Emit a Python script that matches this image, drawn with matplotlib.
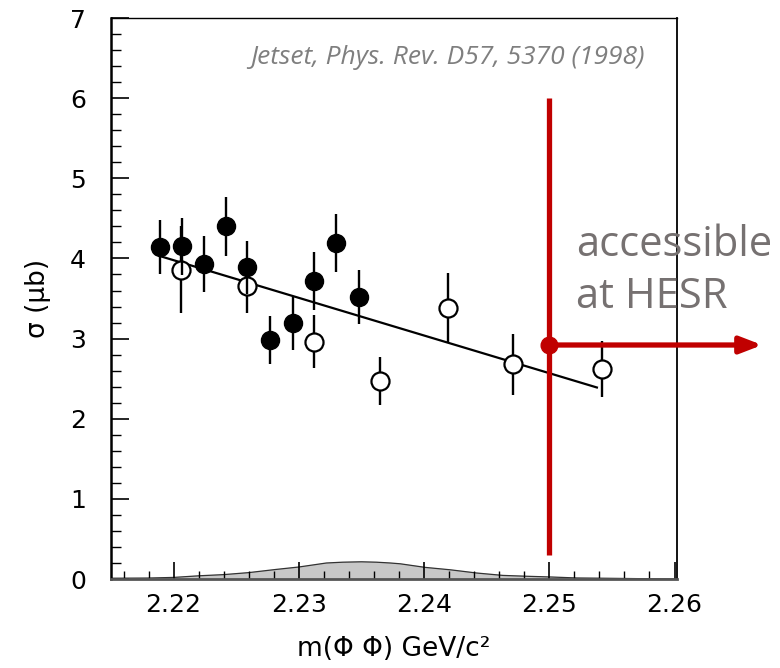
import matplotlib
matplotlib.use("Agg")
import matplotlib.pyplot as plt
from matplotlib.ticker import MultipleLocator

# filled points
m_filled = [2.2189, 2.2207, 2.2224, 2.2242, 2.2259, 2.2277, 2.2295, 2.2312, 2.2330, 2.2348]
sig_filled = [4.14, 4.15, 3.93, 4.40, 3.89, 2.98, 3.19, 3.72, 4.19, 3.52]
err_filled = [0.34, 0.36, 0.35, 0.37, 0.33, 0.30, 0.33, 0.36, 0.36, 0.34]

# open points
m_open = [2.2206, 2.2259, 2.2312, 2.2365, 2.2419, 2.2471, 2.2542]
sig_open = [3.86, 3.66, 2.96, 2.47, 3.38, 2.68, 2.62]
err_open = [0.54, 0.34, 0.33, 0.30, 0.44, 0.38, 0.35]

# straight-line fit end points
fit_m = [2.2189, 2.2538]
fit_sig = [4.03, 2.39]

# acceptance-like shaded curve at the bottom
acc_m = [2.215, 2.2179, 2.2200, 2.2220, 2.2240, 2.2260, 2.2282, 2.2300, 2.2322, 2.2335,
         2.2350, 2.2362, 2.2373, 2.2381, 2.2401, 2.2421, 2.2442, 2.2463, 2.2485, 2.2502,
         2.2522, 2.2543, 2.2570, 2.2600]
acc_sig = [0.01, 0.012, 0.02, 0.04, 0.055, 0.08, 0.12, 0.15, 0.20, 0.21,
           0.215, 0.21, 0.20, 0.19, 0.145, 0.115, 0.075, 0.045, 0.033, 0.025,
           0.013, 0.01, 0.005, 0.0]

hesr_m = 2.25
hesr_sig = 2.92
hesr_line = [0.30, 6.0]
arrow_end = 2.2670

red = "#c00000"
gray_txt = "#767171"

fig = plt.figure(figsize=(7.8, 6.68), dpi=100)
ax = fig.add_axes([0.1423, 0.1332, 0.7257, 0.8398])

ax.fill_between(acc_m, acc_sig, 0, color="#c8c8c8", zorder=1)
ax.plot(acc_m, acc_sig, color="#333333", lw=0.9, zorder=1)

ax.plot(fit_m, fit_sig, color="black", lw=1.6, zorder=2)

ax.errorbar(m_open, sig_open, yerr=err_open, fmt="o", ms=13, mfc="white", mec="black",
            mew=1.6, ecolor="black", elinewidth=1.7, capsize=0, zorder=3)
ax.errorbar(m_filled, sig_filled, yerr=err_filled, fmt="o", ms=13, mfc="black", mec="black",
            ecolor="black", elinewidth=1.7, capsize=0, zorder=4)

# HESR region marker
ax.plot([hesr_m, hesr_m], hesr_line, color=red, lw=3.8, solid_capstyle="butt", zorder=5)
ax.annotate("", xy=(arrow_end, hesr_sig), xytext=(hesr_m, hesr_sig),
            arrowprops=dict(arrowstyle="-|>,head_length=1.3,head_width=0.5", color=red, lw=3.8,
                            shrinkA=0, shrinkB=0),
            annotation_clip=False, zorder=6)
ax.plot([hesr_m], [hesr_sig], "o", color=red, ms=12, zorder=7, clip_on=False)

ax.text(0.943, 0.93, "Jetset, Phys. Rev. D57, 5370 (1998)", transform=ax.transAxes,
        ha="right", va="center", fontsize=19, style="italic", color="#7f7f7f", family="Open Sans")
fig.text(0.738, 0.594, "accessible\nat HESR", ha="left", va="center", fontsize=30,
         color=gray_txt, family="Open Sans", linespacing=1.3)

ax.set_xlim(2.215, 2.2602)
ax.set_ylim(0, 7)
ax.xaxis.set_major_locator(MultipleLocator(0.01))
ax.xaxis.set_minor_locator(MultipleLocator(0.002))
ax.yaxis.set_major_locator(MultipleLocator(1))
ax.yaxis.set_minor_locator(MultipleLocator(0.2))
ax.set_xticks([2.22, 2.23, 2.24, 2.25, 2.26])
ax.set_xticklabels(["2.22", "2.23", "2.24", "2.25", "2.26"])

ax.tick_params(axis="y", which="major", direction="in", length=13, width=1.2, pad=18, labelsize=18)
ax.tick_params(axis="y", which="minor", direction="in", length=7, width=1.0)
ax.tick_params(axis="x", which="major", direction="in", length=12, width=1.2, pad=10, labelsize=18)
ax.tick_params(axis="x", which="minor", direction="in", length=6, width=1.0)

ax.spines["left"].set_linewidth(1.8)
ax.spines["bottom"].set_linewidth(2.0)
ax.spines["bottom"].set_color("#555555")
ax.spines["right"].set_linewidth(1.3)
ax.spines["top"].set_linewidth(1.0)

ax.set_ylabel("σ (μb)", fontsize=19, labelpad=14)
ax.set_xlabel("m(Φ Φ) GeV/c²", fontsize=19, labelpad=14)

fig.savefig("out.png", dpi=100)
